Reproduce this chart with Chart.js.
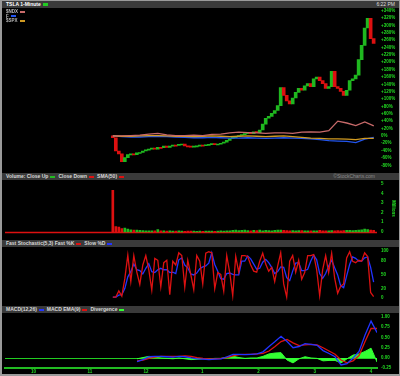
<!DOCTYPE html>
<html>
<head>
<meta charset="utf-8">
<script src="https://cdn.jsdelivr.net/npm/chart.js@4.4.1/dist/chart.umd.min.js"></script>
<style>
  html, body { margin: 0; padding: 0; }
  body { width: 400px; height: 376px; background: #9a9a9a; position: relative; overflow: hidden; }
  #frame { position: absolute; left: 2px; top: 1px; width: 397px; height: 373px; background: #000; }
  canvas { position: absolute; left: 0; z-index: 1; }
  .bar { position: absolute; left: 2px; width: 397px; height: 7px; background: #3a3a3a; color: #d8d8d8;
         font: bold 5px "Liberation Sans", sans-serif; line-height: 7px; white-space: nowrap; z-index: 2; }
  .bar .txt { margin-left: 4px; }
  .sw { display: inline-block; width: 5px; height: 2px; vertical-align: middle; margin: 0 3px 0 2px; }
  .right { position: absolute; right: 24px; top: 0; color: #8a8a8a; font-weight: normal; }
  .leg { position: absolute; left: 6px; color: #bbb; font: bold 4.5px "Liberation Sans", sans-serif; z-index: 2; white-space: nowrap; }
</style>
</head>
<body>
<div id="frame"></div>

<div class="bar" style="top:1px"><span class="txt" style="color:#fff">TSLA 1-Minute</span><span class="sw" style="background:#22cc22;height:3px"></span><span class="right" style="right:4px;color:#ddd">6:22 PM</span></div>
<div class="leg" style="top:9px">$NDX<span class="sw" style="background:#c86a6a"></span></div>
<div class="leg" style="top:13.5px">F<span class="sw" style="background:#2255ee"></span></div>
<div class="leg" style="top:18px">$SPX<span class="sw" style="background:#d09a22"></span></div>

<div class="bar" style="top:173px"><span class="txt">Volume: Close Up</span><span class="sw" style="background:#22bb22"></span>Close Down<span class="sw" style="background:#dd1111"></span>SMA(50)<span class="sw" style="background:#dd1111"></span><span class="right">©StockCharts.com</span></div>
<div class="bar" style="top:240px"><span class="txt">Fast Stochastic(5,3) Fast %K</span><span class="sw" style="background:#dd1111"></span>Slow %D<span class="sw" style="background:#2233ff"></span></div>
<div class="bar" style="top:306px"><span class="txt">MACD(12,26)</span><span class="sw" style="background:#2233ff"></span>MACD EMA(9)<span class="sw" style="background:#dd1111"></span>Divergence<span class="sw" style="background:#33ff33"></span></div>

<canvas id="price" width="400" height="173" style="top:2px"></canvas>
<canvas id="volume" width="400" height="65" style="top:176px"></canvas>
<canvas id="stoch" width="400" height="65" style="top:243px"></canvas>
<canvas id="macd" width="400" height="66" style="top:309px"></canvas>

<script>
// time axis, in hours of the session
const hourLabels = ["10", "11", "12", "1", "2", "3", "4"];
const hourTicks = [10, 11, 12, 13, 14, 15, 16];
const xMin = 9.493;
const xMax = 16.107;

// TSLA closes, % change from the start
const candleStart = 11.41;
const candleStep = 0.0533;
const tslaClose = [
  -5, -41, -49, -70, -59, -51, -49, -51, -46, -45,
  -41, -38, -36, -33, -36, -31, -32, -28, -31, -28,
  -25, -26, -23, -22, -27, -28, -29, -28, -27, -25,
  -26, -24, -23, -21, -23, -22, -20, -17, -12, -7,
  -4, -2, 1, 3, 6, 9, 6, 11, 9, 16,
  32, 48, 53, 61, 69, 82, 131, 110, 95, 87,
  103, 118, 129, 124, 136, 142, 134, 155, 160, 150,
  142, 129, 134, 175, 134, 129, 121, 110, 124, 150,
  155, 165, 207, 246, 293, 319, 264, 251,
];

// volume, millions
const tslaVolume = [
  4.3, 0.55, 0.5, 0.35, 0.4, 0.3, 0.22, 0.2, 0.18, 0.15,
  0.14, 0.12, 0.12, 0.1, 0.12, 0.25, 0.12, 0.1, 0.09, 0.1,
  0.08, 0.09, 0.1, 0.08, 0.07, 0.08, 0.09, 0.08, 0.07, 0.08,
  0.07, 0.08, 0.09, 0.08, 0.07, 0.08, 0.1, 0.09, 0.12, 0.1,
  0.15, 0.18, 0.14, 0.16, 0.2, 0.14, 0.12, 0.15, 0.14, 0.18,
  0.12, 0.15, 0.13, 0.12, 0.16, 0.18, 0.2, 0.15, 0.14, 0.12,
  0.13, 0.12, 0.14, 0.13, 0.12, 0.1, 0.12, 0.11, 0.12, 0.15,
  0.12, 0.11, 0.12, 0.14, 0.12, 0.13, 0.12, 0.14, 0.15, 0.16,
  0.14, 0.15, 0.2, 0.22, 0.3, 0.25, 0.2, 0.15,
];

// comparison symbols, % change
const lineStart = 11.41;
const lineStep = 0.16;
const ndx = [0, 0, 1, 2, 5, 7, 3, 1, 1, 2, 1, 4, 5, 8, 10, 9, 8, 7, 8, 8, 7, 10, 11, 10, 14, 40, 35, 28, 38, 27];
const ford = [0, -2, -3, -3, -2, -1, -2, -3, -4, -5, -5, -4, -5, -6, -6, -5, -6, -7, -6, -5, -6, -7, -8, -10, -13, -14, -15, -18, -9, -4];
const spx = [0, -1, -1, 0, 1, 1, 0, -1, -1, -2, -1, 0, -1, -2, -1, 0, -1, -2, -1, 0, -2, -4, -6, -7, -8, -8, -9, -10, -7, -7];

// fast stochastic (5,3)
const fastK = [
  2, 2, 15, 4, 41, 91, 35, 90, 55, 29,
  70, 90, 60, 17, 84, 80, 24, 75, 80, 7,
  78, 70, 96, 90, 23, 80, 50, 18, 90, 78,
  30, 95, 98, 96, 20, 54, 50, 15, 90, 54,
  5, 88, 55, 90, 90, 88, 70, 57, 55, 78,
  95, 72, 57, 65, 35, 68, 96, 30, 2, 78,
  90, 55, 80, 40, 54, 90, 90, 92, 60, 5,
  60, 90, 54, 95, 42, 10, 25, 30, 85, 98,
  78, 75, 80, 78, 96, 88, 12, 3,
];
const slowD = [
  2, 2, 6, 7, 20, 45, 56, 72, 60, 58,
  51, 63, 73, 56, 54, 60, 63, 60, 60, 54,
  55, 52, 81, 85, 70, 64, 51, 49, 53, 62,
  66, 68, 74, 96, 71, 57, 41, 40, 52, 53,
  50, 49, 49, 78, 78, 89, 83, 72, 61, 63,
  76, 82, 75, 65, 52, 56, 66, 65, 43, 37,
  57, 74, 75, 58, 58, 61, 78, 91, 81, 52,
  42, 52, 68, 80, 64, 49, 26, 22, 47, 71,
  87, 84, 78, 78, 85, 87, 65, 34,
];

// MACD(12,26), EMA(9), divergence
const macdStart = 11.84;
const macdStep = 0.1067;
const macdLine = [
  -0.09, -0.04, 0.03, 0.04, 0.04, 0.03, 0.02, 0.04, 0.03, 0.0,
  -0.02, -0.03, -0.04, -0.03, -0.02, 0.03, 0.09, 0.09, 0.08, 0.09,
  0.1, 0.15, 0.28, 0.4, 0.53, 0.4, 0.25, 0.28, 0.35, 0.33,
  0.31, 0.18, 0.11, 0.03, -0.17, -0.14, 0.0, 0.16, 0.56, 0.9, 0.62,
];
const macdSignal = [
  -0.07, -0.05, -0.01, 0.02, 0.04, 0.04, 0.04, 0.04, 0.05, 0.04,
  0.01, -0.01, -0.02, -0.02, -0.01, 0.01, 0.05, 0.08, 0.09, 0.09,
  0.1, 0.11, 0.17, 0.28, 0.4, 0.45, 0.37, 0.3, 0.32, 0.33,
  0.32, 0.25, 0.17, 0.09, -0.05, -0.12, -0.07, 0.06, 0.4, 0.72, 0.72,
];
const macdHist = [
  -0.02, 0.01, 0.04, 0.02, 0.0, -0.01, -0.02, 0.0, -0.02, -0.04,
  -0.03, -0.02, -0.02, -0.01, -0.01, 0.02, 0.04, 0.01, -0.01, 0.0,
  0.0, 0.04, 0.1, 0.12, 0.13, -0.05, -0.12, -0.02, 0.03, 0.0,
  -0.01, -0.07, -0.06, -0.06, -0.12, -0.02, 0.07, 0.1, 0.16, 0.24, -0.1,
];

const priceTicks = [-80, -60, -40, -20, 0, 20, 40, 60, 80, 100, 120, 140, 160, 180, 200, 220, 240, 260, 280, 300, 320, 340];
const volumeTicks = [0, 1, 2, 3, 4, 5];
const stochTicks = [0, 20, 50, 80, 100];
const macdTicks = [-0.25, 0, 0.25, 0.5, 0.75, 1];

const GREEN = "#22dd22";
const UP = "#1fb81f";
const DOWN = "#dd1010";
const tickFont = { family: "Liberation Sans", size: 4.5, weight: "bold" };

const series = (arr, start, step) => arr.map((v, i) => ({ x: start + i * step, y: v }));

// horizontal reference line at a y value
const baseLine = {
  id: "baseLine",
  beforeDatasetsDraw(chart, args, opts) {
    if (!opts.color) return;
    const { ctx, chartArea } = chart;
    const y = Math.round(chart.scales.y.getPixelForValue(opts.value)) + 0.5;
    ctx.save();
    ctx.strokeStyle = opts.color;
    ctx.lineWidth = opts.width;
    ctx.beginPath();
    ctx.moveTo(chartArea.left, y);
    ctx.lineTo(chartArea.right, y);
    ctx.stroke();
    ctx.restore();
  },
};

function panelOptions(yMin, yMax, tickList, fmt, padTop, padBottom) {
  return {
    responsive: false,
    animation: false,
    layout: { padding: { left: 5, right: 0, top: padTop, bottom: padBottom } },
    plugins: { legend: { display: false }, tooltip: { enabled: false }, baseLine: {} },
    scales: {
      x: { type: "linear", min: xMin, max: xMax, offset: false, display: false },
      y: {
        position: "right",
        min: yMin,
        max: yMax,
        afterFit: (s) => { s.width = 23; },
        afterBuildTicks: (s) => { s.ticks = tickList.map((v) => ({ value: v })); },
        grid: { display: false, drawTicks: false },
        border: { display: false },
        ticks: { color: GREEN, font: tickFont, padding: 4, crossAlign: "near", autoSkip: false, callback: fmt },
      },
    },
  };
}

// candle bodies from previous close to close
const prevClose = tslaClose.map((c, i) => (i === 0 ? 0 : tslaClose[i - 1]));
const candleColors = tslaClose.map((c, i) => (c >= prevClose[i] ? UP : DOWN));

const line = (label, data, start, step, color, width) => ({
  type: "line", label, data: series(data, start, step),
  borderColor: color, borderWidth: width, pointRadius: 0, tension: 0,
});

new Chart(document.getElementById("price"), {
  type: "bar",
  data: {
    datasets: [
      line("$NDX", ndx, lineStart, lineStep, "#c86a6a", 1.3),
      line("$SPX", spx, lineStart, lineStep, "#d09a22", 1.3),
      line("F", ford, lineStart, lineStep, "#2255ee", 1.3),
      {
        label: "TSLA",
        data: tslaClose.map((c, i) => ({ x: candleStart + i * candleStep, y: [prevClose[i], c] })),
        backgroundColor: candleColors,
        barThickness: 3,
        minBarLength: 1,
        grouped: false,
      },
    ],
  },
  options: panelOptions(-88, 345.4, priceTicks, (v) => (v > 0 ? "+" + v + "%" : v + "%"), 5, 2),
});

const volOpts = panelOptions(-0.25, 5.1, volumeTicks, (v) => v, 4, 2);
volOpts.plugins.baseLine = { color: "#dd1010", value: 0, width: 1.5 };
volOpts.scales.y.title = { display: true, text: "Millions", color: GREEN, font: tickFont, padding: { top: 4, bottom: 0 } };
new Chart(document.getElementById("volume"), {
  type: "bar",
  data: {
    datasets: [{
      label: "Volume",
      data: series(tslaVolume, candleStart, candleStep),
      backgroundColor: candleColors,
      barThickness: 2,
      grouped: false,
    }],
  },
  options: volOpts,
  plugins: [baseLine],
});

new Chart(document.getElementById("stoch"), {
  type: "line",
  data: {
    datasets: [
      line("Fast %K", fastK, candleStart, candleStep, "#dd1111", 1.3),
      line("Slow %D", slowD, candleStart, candleStep, "#2233ff", 1.3),
    ],
  },
  options: panelOptions(-6.85, 102.4, stochTicks, (v) => v, 4, 2),
});

const macdOpts = panelOptions(-0.252, 1.032, macdTicks, (v) => v.toFixed(2), 4, 1);
macdOpts.plugins.baseLine = { color: "#22cc22", value: 0, width: 1 };
macdOpts.scales.x = {
  type: "linear", min: xMin, max: xMax, offset: false,
  afterFit: (s) => { s.height = 5; },
  afterBuildTicks: (s) => { s.ticks = hourTicks.map((v) => ({ value: v })); },
  grid: { display: false, drawTicks: false },
  border: { display: true, color: "#22bb22", width: 2, dash: [2, 1] },
  ticks: { color: GREEN, font: tickFont, padding: 1, maxRotation: 0, autoSkip: false,
    callback: (v) => hourLabels[hourTicks.indexOf(v)] },
};
new Chart(document.getElementById("macd"), {
  type: "line",
  data: {
    datasets: [
      line("MACD", macdLine, macdStart, macdStep, "#2233ff", 1.3),
      line("EMA(9)", macdSignal, macdStart, macdStep, "#dd1111", 1.3),
      {
        label: "Divergence",
        data: series(macdHist, macdStart, macdStep),
        borderColor: "#33ff33",
        backgroundColor: "#33ff33",
        borderWidth: 1,
        pointRadius: 0,
        fill: "origin",
      },
    ],
  },
  options: macdOpts,
  plugins: [baseLine],
});
</script>
</body>
</html>
